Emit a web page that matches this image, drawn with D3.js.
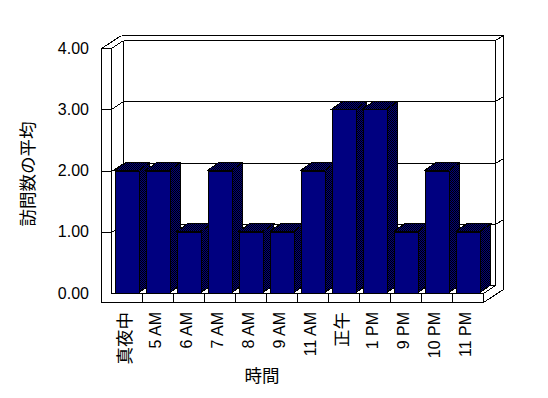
<!DOCTYPE html>
<html><head><meta charset="utf-8">
<script src="https://cdn.jsdelivr.net/npm/d3@7"></script>
<style>
html,body{margin:0;padding:0;background:#fff;}
text{font-family:"Liberation Sans","Noto Sans CJK JP",Arial,sans-serif;fill:#000;}
</style></head>
<body>
<svg id="chart" width="548" height="398"></svg>
<script>
const categories = ["真夜中","5 AM","6 AM","7 AM","8 AM","9 AM","11 AM","正午","1 PM","9 PM","10 PM","11 PM"];
const values = [2,2,1,2,1,1,2,3,3,1,2,1];
const yTicks = [0,1,2,3,4];
const yTickLabels = ["0.00","1.00","2.00","3.00","4.00"];
const yTitle = "訪問数の平均";
const xTitle = "時間";

const svg = d3.select("#chart");
const W = 548, H = 398;
svg.append("rect").attr("width",W).attr("height",H).attr("fill","#fff");

// dither pattern for side/top faces
const defs = svg.append("defs");
const pat = defs.append("pattern").attr("id","dither").attr("patternUnits","userSpaceOnUse")
  .attr("width",2).attr("height",2);
pat.append("rect").attr("width",2).attr("height",2).attr("fill","#000080");
pat.append("rect").attr("width",1).attr("height",1).attr("fill","#000");
pat.append("rect").attr("x",1).attr("y",1).attr("width",1).attr("height",1).attr("fill","#000");

const x = d3.scaleBand().domain(categories).range([110.5, 482.5]).padding(0);
const y = d3.scaleLinear().domain([0,4]).range([293, 48]);

const xL = x.range()[0], xR = x.range()[1];
const y0 = y(0), yTop = y(4);
const D = [12,-8];       // inner depth
const wallT = 10;        // left wall thickness
const floorT = 9;        // floor thickness
const backT = [8,-5];    // back wall thickness
const wallX = xL - wallT;

const g = svg.append("g").attr("shape-rendering","crispEdges");
function line(x1,y1,x2,y2){
  g.append("line").attr("x1",Math.round(x1)+0.5).attr("y1",Math.round(y1)+0.5)
   .attr("x2",Math.round(x2)+0.5).attr("y2",Math.round(y2)+0.5)
   .attr("stroke","#000").attr("stroke-width",1);
}

const bx = xL + D[0], bxR = xR + D[0];  // back wall front-face x range
// back wall
line(bx, yTop + D[1], bx, y0 + D[1]);
line(bx, yTop + D[1], bxR, yTop + D[1]);
line(bxR, yTop + D[1], bxR, y0 + D[1]);
line(wallX + D[0] + backT[0], yTop + D[1] + backT[1], bxR + backT[0], yTop + D[1] + backT[1]);
line(bxR, yTop + D[1], bxR + backT[0], yTop + D[1] + backT[1]);
line(bxR + backT[0], yTop + D[1] + backT[1], bxR + backT[0], y0 + floorT + D[1] + backT[1] + 0);
// gridlines
yTicks.filter(v => v > 0 && v < 4).forEach(v => {
  const yy = y(v);
  line(wallX, yy, xL, yy);
  line(xL, yy, bx, yy + D[1]);
  line(bx, yy + D[1], bxR, yy + D[1]);
  line(bxR, yy + D[1], bxR + backT[0], yy + D[1] + backT[1]);
});
// floor back edge
line(bx, y0 + D[1], bxR, y0 + D[1]);
line(xR, y0, bxR, y0 + D[1]);
// left wall
line(wallX, yTop, wallX, y0 + floorT);
line(xL, yTop, xL, y0);
line(wallX, yTop, xL, yTop);
line(wallX, yTop, wallX + D[0] + backT[0], yTop + D[1] + backT[1]);
line(xL, yTop, bx, yTop + D[1]);

// bars
const dep = [11,-8];
const barG = svg.append("g");
categories.forEach((c,i) => {
  const v = values[i];
  const x0 = x(c) + 4, x1 = x(c) + 28;
  const yt = y(v), yb = y(0);
  const gb = barG.append("g");
  // side face
  gb.append("path").attr("d", `M${x1},${yt}L${x1+dep[0]},${yt+dep[1]}L${x1+dep[0]},${yb+dep[1]}L${x1},${yb}Z`)
    .attr("fill","url(#dither)").attr("stroke","#000").attr("stroke-width",1).attr("shape-rendering","crispEdges");
  // top face
  gb.append("path").attr("d", `M${x0},${yt}L${x0+dep[0]},${yt+dep[1]}L${x1+dep[0]},${yt+dep[1]}L${x1},${yt}Z`)
    .attr("fill","url(#dither)").attr("stroke","#000").attr("stroke-width",1).attr("shape-rendering","crispEdges");
  // front face
  gb.append("rect").attr("x",x0+0.5).attr("y",yt+0.5).attr("width",x1-x0).attr("height",yb-yt)
    .attr("fill","#000080").attr("stroke","#000").attr("stroke-width",1).attr("shape-rendering","crispEdges");
});

// floor front face (drawn over bars)
const g2 = svg.append("g").attr("shape-rendering","crispEdges");
g2.append("rect").attr("x",xL).attr("y",y0+1).attr("width",xR-xL).attr("height",floorT-1).attr("fill","#fff");
function line2(x1,y1,x2,y2){
  g2.append("line").attr("x1",Math.round(x1)+0.5).attr("y1",Math.round(y1)+0.5)
   .attr("x2",Math.round(x2)+0.5).attr("y2",Math.round(y2)+0.5)
   .attr("stroke","#000").attr("stroke-width",1);
}
line2(xL, y0, xR, y0);
line2(wallX, y0 + floorT, xR, y0 + floorT);
line2(xR, y0, xR, y0 + floorT);
line2(xR, y0 + floorT, xR + D[0] + backT[0], y0 + floorT + D[1] + backT[1]);
categories.slice(1).forEach(c => line2(x(c), y0, x(c), y0 + floorT));

// y axis labels
const yAxis = d3.axisLeft(y).tickValues(yTicks).tickFormat((d,i) => yTickLabels[i]).tickSize(0).tickPadding(0);
const ya = svg.append("g").attr("transform","translate(89,0)").call(yAxis);
ya.select(".domain").remove();
ya.selectAll("text").attr("font-size","16px").attr("font-family",null).attr("fill","#000");

// x axis labels
const xAxis = d3.axisBottom(x).tickSize(0).tickPadding(0);
const xa = svg.append("g").attr("transform",`translate(-1,${y0+floorT})`).call(xAxis);
xa.select(".domain").remove();
xa.selectAll("text")
  .attr("transform","rotate(-90)")
  .attr("text-anchor","end")
  .attr("x",-10).attr("y",0).attr("dy","0.33em")
  .attr("font-family",null).attr("fill","#000")
  .attr("font-size", d => /[^\x00-\x7F]/.test(d) ? "17.5px" : "16px");

// titles
svg.append("text").attr("transform","translate(28,174) rotate(-90)")
  .attr("text-anchor","middle").attr("dominant-baseline","central")
  .attr("font-size","17.5px").text(yTitle);
svg.append("text").attr("x",262).attr("y",376)
  .attr("text-anchor","middle").attr("dominant-baseline","central")
  .attr("font-size","17.5px").text(xTitle);
</script>
</body></html>
